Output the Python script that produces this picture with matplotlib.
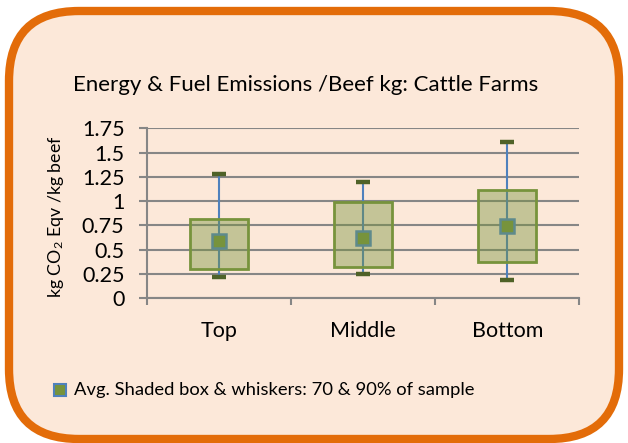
import matplotlib
matplotlib.use("Agg")
import matplotlib.pyplot as plt
from matplotlib.patches import FancyBboxPatch, Rectangle
from matplotlib.lines import Line2D

categories = ["Top", "Middle", "Bottom"]
whisker_low = [0.22, 0.25, 0.19]
box_low = [0.30, 0.32, 0.37]
average = [0.59, 0.62, 0.74]
box_high = [0.82, 0.99, 1.12]
whisker_high = [1.28, 1.20, 1.61]
yticks = [0, 0.25, 0.5, 0.75, 1, 1.25, 1.5, 1.75]
ytick_labels = ["0", "0.25", "0.5", "0.75", "1", "1.25", "1.5", "1.75"]

title = "Energy & Fuel Emissions /Beef kg: Cattle Farms"
ylabel = r"kg CO$_2$ Eqv /kg beef"
legend_label = "Avg. Shaded box & whiskers: 70 & 90% of sample"

FONT = "Lato"
plt.rcParams["font.family"] = [FONT, "DejaVu Sans"]
plt.rcParams["mathtext.fontset"] = "custom"
plt.rcParams["mathtext.rm"] = FONT
plt.rcParams["mathtext.it"] = FONT

W, H, DPI = 628, 443, 100
fig = plt.figure(figsize=(W / DPI, H / DPI), dpi=DPI)
fig.patch.set_facecolor("white")

bg = "#FCE8D9"
orange = "#E36C09"
border = FancyBboxPatch((9 / DPI, 4 / DPI), (619 - 9) / DPI, (432 - 4) / DPI,
                        boxstyle="round,pad=0,rounding_size=0.7",
                        transform=fig.dpi_scale_trans, facecolor=bg,
                        edgecolor=orange, linewidth=6.0, zorder=-10)
fig.patches.append(border)

ax = fig.add_axes([146.7 / W, (H - 298.3) / H, (579.3 - 146.7) / W, (298.3 - 128.3) / H])
ax.set_zorder(5)
ax.set_facecolor("none")
ax.set_xlim(0, 3)
ax.set_ylim(0, 1.75)

grid_c = "#868686"
FS = 15.5
ax.set_yticks(yticks)
ax.set_yticklabels(ytick_labels, fontsize=FS)
ax.yaxis.grid(True, color=grid_c, linewidth=1.5, zorder=0)
ax.set_axisbelow(True)
ax.set_xticks([0, 1, 2, 3])
ax.set_xticklabels([])
ax.set_xticks([0.5, 1.5, 2.5], minor=True)
ax.set_xticklabels(categories, minor=True, fontsize=FS)
ax.tick_params(axis="x", which="minor", length=0, pad=16)
ax.tick_params(axis="x", which="major", length=5, color=grid_c, width=1.5)
ax.tick_params(axis="y", length=6, color=grid_c, width=1.5, pad=10)
for s in ["top", "right"]:
    ax.spines[s].set_visible(False)
for s in ["left", "bottom"]:
    ax.spines[s].set_color(grid_c)
    ax.spines[s].set_linewidth(1.5)

ax.set_ylabel(ylabel, fontsize=12.8)
ax.yaxis.set_label_coords((66 - 146.7) / (579.3 - 146.7), 0.48)

box_face = "#77933C"
box_edge = "#77933C"
cap_c = "#4F6228"
line_c = "#4F81BD"
bw = 0.4
for i, cat in enumerate(categories):
    x = i + 0.5
    ax.plot([x, x], [whisker_low[i], whisker_high[i]], color=line_c, lw=1.5, zorder=2)
    ax.add_patch(Rectangle((x - bw / 2, box_low[i]), bw, box_high[i] - box_low[i],
                           facecolor=(0.467, 0.576, 0.235, 0.42), edgecolor=box_edge,
                           lw=2.0, zorder=3))
    for yv in (whisker_low[i], whisker_high[i]):
        ax.plot([x - 0.05, x + 0.05], [yv, yv], color=cap_c, lw=3.2, solid_capstyle="butt", zorder=4)
    ax.plot([x], [average[i]], marker="s", markersize=9.5, markerfacecolor=box_face,
            markeredgecolor="#5E8A8C", markeredgewidth=1.8, zorder=5)

fig.text(306 / W, 1 - 85 / H, title, ha="center", va="center", fontsize=16)

fig.add_artist(Line2D([60 / W], [1 - 390 / H], marker="s", markersize=9,
                      markerfacecolor=box_face, markeredgecolor=line_c,
                      markeredgewidth=1.5, linestyle="none", transform=fig.transFigure))
fig.text(74 / W, 1 - 390 / H, legend_label, ha="left", va="center", fontsize=13.2)

fig.savefig("out.png", dpi=DPI)
